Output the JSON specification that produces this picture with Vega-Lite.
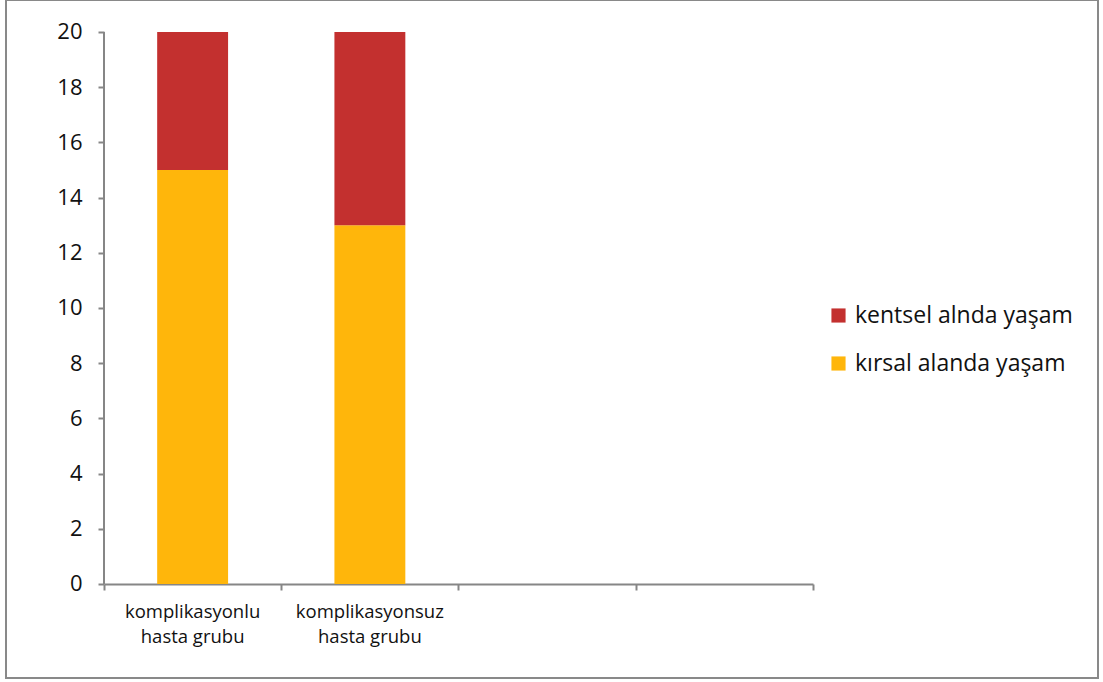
{
  "$schema": "https://vega.github.io/schema/vega-lite/v6.json",
  "autosize": {"type": "none"},
  "width": 1092,
  "height": 678,
  "padding": {"left": 6, "top": 0, "right": 5, "bottom": 4},
  "background": "white",
  "config": {
    "font": "Open Sans",
    "view": {"stroke": "#898989", "strokeWidth": 2, "fill": "white"}
  },
  "layer": [
    {
      "data": {
        "values": [
          {"grup": "komplikasyonlu hasta grubu", "yer": "kırsal alanda yaşam", "sayi": 15},
          {"grup": "komplikasyonlu hasta grubu", "yer": "kentsel alnda yaşam", "sayi": 5},
          {"grup": "komplikasyonsuz hasta grubu", "yer": "kırsal alanda yaşam", "sayi": 13},
          {"grup": "komplikasyonsuz hasta grubu", "yer": "kentsel alnda yaşam", "sayi": 7}
        ]
      },
      "mark": {"type": "bar"},
      "encoding": {
        "x": {
          "field": "grup",
          "type": "nominal",
          "scale": {
            "domain": ["komplikasyonlu hasta grubu", "komplikasyonsuz hasta grubu", " ", "  "],
            "range": [98, 807],
            "paddingInner": 0.6,
            "paddingOuter": 0.3
          },
          "axis": {
            "title": null,
            "orient": "bottom",
            "offset": -94,
            "labelAngle": 0,
            "domainColor": "#868686",
            "domainWidth": 2,
            "ticks": false,
            "labelFont": "Open Sans",
            "labelFontSize": 18.5,
            "labelColor": "#111",
            "labelPadding": 18,
            "labelLineHeight": 25,
            "labelBaseline": "top",
            "labelExpr": "indexof(datum.value, ' ') > 0 ? [slice(datum.value, 0, indexof(datum.value, ' ')), slice(datum.value, indexof(datum.value, ' ') + 1)] : ''"
          }
        },
        "y": {
          "field": "sayi",
          "type": "quantitative",
          "aggregate": "sum",
          "stack": "zero",
          "scale": {"domain": [-3.4058, 21.1594], "nice": false, "zero": false},
          "axis": {
            "title": null,
            "orient": "left",
            "offset": -98,
            "values": [0, 2, 4, 6, 8, 10, 12, 14, 16, 18, 20],
            "grid": false,
            "domain": false,
            "tickColor": "#868686",
            "tickWidth": 2,
            "tickSize": 6,
            "labelFont": "Open Sans",
            "labelFontSize": 22,
            "labelColor": "#111",
            "labelPadding": 16
          }
        },
        "color": {
          "field": "yer",
          "type": "nominal",
          "scale": {
            "domain": ["kentsel alnda yaşam", "kırsal alanda yaşam"],
            "range": ["#C3302F", "#FFB60B"]
          },
          "legend": {
            "title": null,
            "orient": "none",
            "legendX": 821,
            "legendY": 304,
            "symbolType": "square",
            "symbolSize": 200,
            "symbolStrokeWidth": 0,
            "labelFont": "Open Sans",
            "labelFontSize": 23,
            "labelColor": "#111",
            "labelLimit": 400,
            "labelOffset": 5,
            "rowPadding": 24
          }
        },
        "order": {"field": "yer", "sort": "descending"}
      }
    },
    {
      "data": {"values": [{}]},
      "mark": {"type": "rule", "color": "#868686", "strokeWidth": 2},
      "encoding": {
        "x": {
          "datum": 0,
          "type": "quantitative",
          "scale": {"domain": [-0.55289, 5.6079], "nice": false, "zero": false},
          "axis": {
            "title": null,
            "orient": "bottom",
            "offset": -94,
            "values": [0, 1, 2, 3, 4],
            "labels": false,
            "domain": false,
            "grid": false,
            "tickColor": "#868686",
            "tickWidth": 2,
            "tickSize": 6
          }
        },
        "y": {"datum": 0, "type": "quantitative"},
        "y2": {"datum": 20}
      }
    }
  ],
  "resolve": {
    "scale": {"x": "independent"},
    "axis": {"x": "independent"}
  }
}
